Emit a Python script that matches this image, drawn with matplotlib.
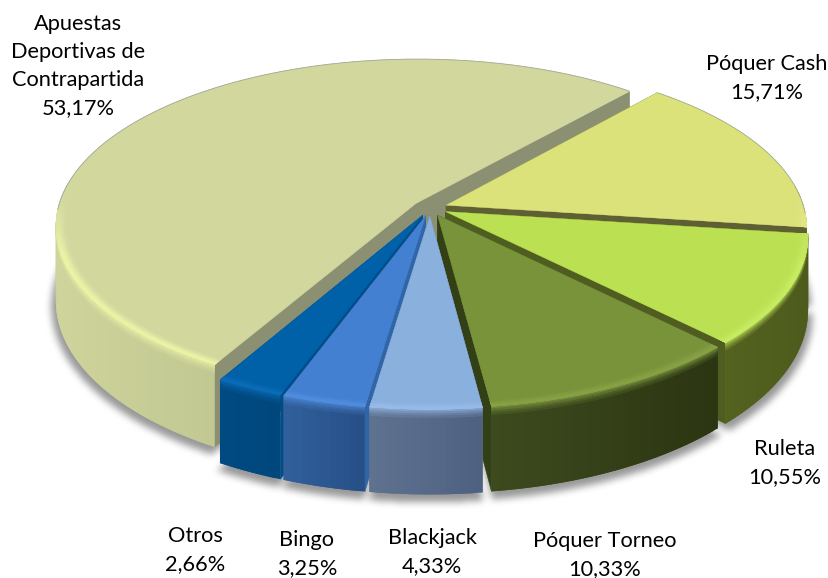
import numpy as np
import matplotlib
matplotlib.use("Agg")
import matplotlib.pyplot as plt
from matplotlib.collections import PolyCollection
from matplotlib.colors import to_rgb
from matplotlib.path import Path

plt.rcParams['font.family'] = ['Lato', 'DejaVu Sans']

# ---- data ----
categories = ["Apuestas\nDeportivas de\nContrapartida", "Póquer Cash", "Ruleta",
              "Póquer Torneo", "Blackjack", "Bingo", "Otros"]
values = [53.17, 15.71, 10.55, 10.33, 4.33, 3.25, 2.66]

# ---- styles ----
top_colors = ["#d2d79e", "#dbe27a", "#bbe052", "#79933a", "#8ab0dd", "#4480d2", "#0060a8"]
bevel_colors = ["#eaf2a6", "#e6ec90", "#c6ea60", "#86a044", "#97bbe8", "#4f8cdc", "#0a6cb6"]
radial_colors = ["#8b9072", "#5e6034", "#4f5e20", "#333f14", "#5f7390", "#2f66a8", "#004d87"]
wall_light = ["#cfd59c", "#5e6034", "#53621f", "#3d4a1e", "#5f7390", "#30609c", "#004a82"]
wall_dark = ["#a5aa7b", "#5e6034", "#4c5a1c", "#2b3512", "#4e6080", "#284f86", "#00477c"]
label_xy = [(78, 66), (767, 78), (785, 463), (605, 555), (432, 552), (307, 554), (195, 550)]
order = [0, 1, 2, 6, 3, 5, 4]

W, H = 829, 578
cx, cy = 430, 208
Rx, Ry, k = 358, 165, 0.135
depth = 73
explode = 0.048
start = 41.0


def proj(u, v, z=0.0):
    s = 1.0 / (1.0 - k * v)
    return cx + Rx * u * s, cy + Ry * v * s + z * depth * s


def mix(a, b, t):
    a, b = np.array(to_rgb(a)), np.array(to_rgb(b))
    return tuple(a + (b - a) * t)


fig = plt.figure(figsize=(W / 100, H / 100), dpi=100)
ax = fig.add_axes([0, 0, 1, 1])
ax.set_xlim(0, W)
ax.set_ylim(H, 0)
ax.axis('off')

fracs = np.array(values) / np.sum(values) * 360
bounds = start - fracs[0] + np.concatenate([[0], np.cumsum(fracs)])
slices = []
for i in range(len(values)):
    a0, a1 = np.radians(bounds[i]), np.radians(bounds[i + 1])
    mid = (a0 + a1) / 2
    slices.append((a0, a1, explode * np.sin(mid), -explode * np.cos(mid)))

# ---- soft shadow from the base outline ----
yy, xx = np.mgrid[0:H, 0:W]
grid = np.column_stack([xx.ravel() + 0.5, yy.ravel() + 0.5])
mask = np.zeros(H * W, bool)
for a0, a1, ox, oy in slices:
    t = np.linspace(a0, a1, 120)
    us = np.r_[ox, ox + 1.012 * np.sin(t)]
    vs = np.r_[oy, oy - 1.012 * np.cos(t)]
    px, py = proj(us, vs, 1.0)
    mask |= Path(np.column_stack([px, py + 5])).contains_points(grid)
blur = mask.reshape(H, W).astype(float)
kern = np.ones(7) / 7
for _ in range(3):
    blur = np.apply_along_axis(lambda r: np.convolve(r, kern, 'same'), 0, blur)
    blur = np.apply_along_axis(lambda r: np.convolve(r, kern, 'same'), 1, blur)
rgba = np.zeros((H, W, 4))
rgba[..., :3] = 0.35
rgba[..., 3] = blur * 0.62
ax.imshow(rgba, extent=(0, W, H, 0), zorder=1, interpolation='bilinear', aspect='auto')
ax.set_xlim(0, W)
ax.set_ylim(H, 0)

# ---- slices, back to front ----
z = 2
for i in order:
    a0, a1, ox, oy = slices[i]
    n = max(12, int((a1 - a0) * 60))
    t = np.linspace(a0, a1, n + 1)
    u, v = ox + np.sin(t), oy - np.cos(t)
    span = np.sin(t)
    umin, umax = span.min(), span.max()
    # radial walls
    for b in (a0, a1):
        ue, ve = ox + np.sin(b), oy - np.cos(b)
        p = [proj(ox, oy, 0), proj(ue, ve, 0), proj(ue, ve, 1), proj(ox, oy, 1)]
        ax.add_patch(plt.Polygon(p, closed=True, fc=radial_colors[i], ec=radial_colors[i], lw=0.3, zorder=z))
        z += 1
    # outer wall: body first, then ever shorter layers towards the rim;
    # every quad runs under the next one, which leaves no seams
    polys, cols = [], []
    lowers = [1.0, 0.10, 0.07, 0.045, 0.02]
    weights = [0.0, 0.15, 0.3, 0.5, 0.7]
    for low, wt in zip(lowers, weights):
        for j in range(n):
            vm = (v[j] + v[j + 1]) / 2 - oy
            if vm < -0.12:
                continue
            shade = 0 if umax == umin else (0.5 * (span[j] + span[j + 1]) - umin) / (umax - umin)
            base = mix(wall_light[i], wall_dark[i], shade)
            fade = float(np.clip(vm / 0.3, 0, 1))
            e = min(j + 2, n)
            polys.append([proj(u[j], v[j], 0), proj(u[e], v[e], 0),
                          proj(u[e], v[e], low), proj(u[j], v[j], low)])
            cols.append(mix(base, bevel_colors[i], wt * fade))
    if polys:
        ax.add_collection(PolyCollection(polys, facecolors=cols, edgecolors='none', zorder=z))
    z += 1
    # top face
    px, py = proj(np.r_[ox, u], np.r_[oy, v])
    ax.fill(px, py, fc=top_colors[i], ec=top_colors[i], lw=0.3, zorder=z)
    z += 1
    # bevel band on the rim, inner rings first
    polys, cols = [], []
    inner = [0.97, 0.978, 0.984, 0.99, 0.995]
    ring_w = [0.15, 0.45, 0.8, 1.0, 1.0]
    for r1, wt in zip(inner, ring_w):
        for j in range(n):
            vm = (v[j] + v[j + 1]) / 2 - oy
            fade = float(np.clip((vm + 0.05) / 0.35, 0, 1))
            if fade <= 0:
                continue
            e = min(j + 2, n)
            polys.append([proj(u[j], v[j]), proj(u[e], v[e]),
                          proj(ox + r1 * np.sin(t[e]), oy - r1 * np.cos(t[e])),
                          proj(ox + r1 * np.sin(t[j]), oy - r1 * np.cos(t[j]))])
            cols.append(mix(top_colors[i], bevel_colors[i], wt * fade))
    if polys:
        ax.add_collection(PolyCollection(polys, facecolors=cols, edgecolors='none', zorder=z))
    z += 1
    # thin rim line on the back edge
    keep = (v - oy) < 0.05
    if keep.any():
        lx, ly = proj(u[keep], v[keep])
        ax.plot(lx, ly, color="#a4a896", lw=0.6, zorder=z, solid_capstyle='butt')
    z += 1

# ---- labels ----
for name, val, (x, y) in zip(categories, values, label_xy):
    txt = f"{name}\n{val:.2f}%".replace('.', ',')
    ax.text(x, y, txt, ha='center', va='center', fontsize=15.7, color='black',
            linespacing=1.5, zorder=500)

fig.savefig("out.png", dpi=100, facecolor='white')
